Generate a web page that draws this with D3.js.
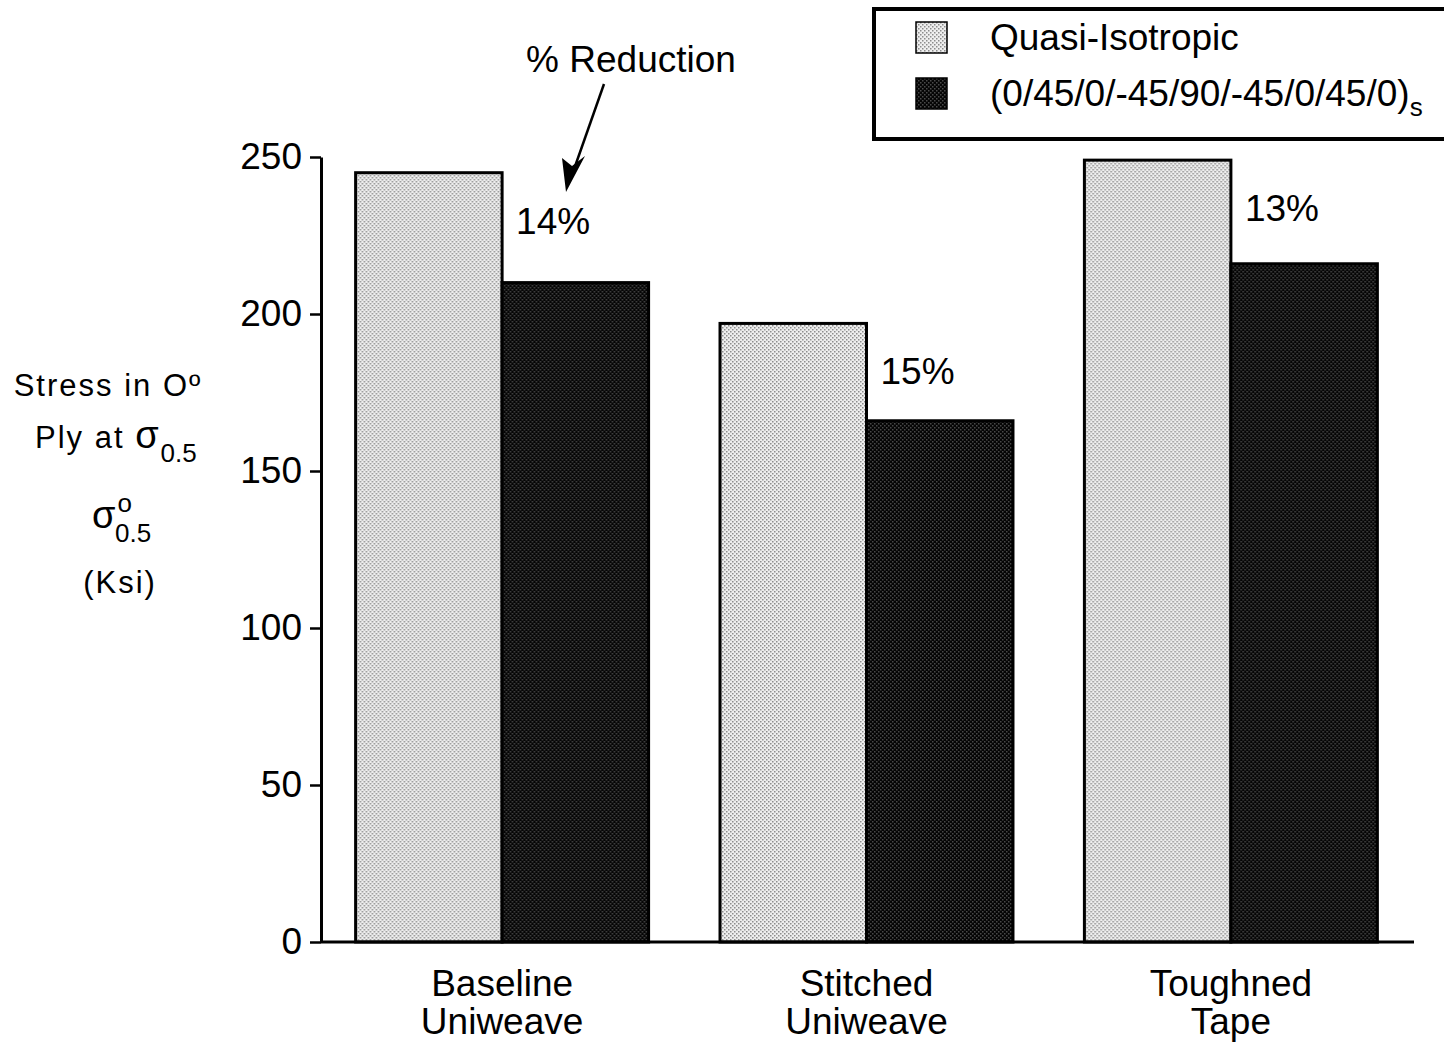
<!DOCTYPE html>
<html>
<head>
<meta charset="utf-8">
<script src="https://cdn.jsdelivr.net/npm/d3@7"></script>
<style>
  body { margin: 0; background: #fff; }
  svg text { font-family: "Liberation Sans", Arial, sans-serif; fill: #000; }
</style>
</head>
<body>
<div id="chart"></div>
<script>
// data
const categories = [["Baseline", "Uniweave"], ["Stitched", "Uniweave"], ["Toughned", "Tape"]];
const seriesNames = ["Quasi-Isotropic", "(0/45/0/-45/90/-45/0/45/0)"];
const quasiValues = [245, 197, 249];
const layupValues = [210, 166, 216];
const reductions = ["14%", "15%", "13%"];
const yTicks = [0, 50, 100, 150, 200, 250];

const width = 1444, height = 1043;
const margin = { top: 157, right: 32, bottom: 101, left: 321 };
const innerW = width - margin.left - margin.right;
const innerH = height - margin.top - margin.bottom;

const svg = d3.select("#chart").append("svg")
  .attr("width", width)
  .attr("height", height);

// dotted halftone fills
const defs = svg.append("defs");
function dotPattern(id, bg, dot) {
  const p = defs.append("pattern")
    .attr("id", id)
    .attr("patternUnits", "userSpaceOnUse")
    .attr("width", 4).attr("height", 4);
  p.append("rect").attr("width", 4).attr("height", 4).attr("fill", bg);
  p.append("rect").attr("x", 0).attr("y", 0).attr("width", 1.5).attr("height", 1.5).attr("fill", dot);
  p.append("rect").attr("x", 2).attr("y", 2).attr("width", 1.5).attr("height", 1.5).attr("fill", dot);
}
dotPattern("light", "#eeeeee", "#8c8c8c");
dotPattern("dark", "#050505", "#4a4a4a");
const fills = ["url(#light)", "url(#dark)"];

const g = svg.append("g").attr("transform", `translate(${margin.left},${margin.top})`);

const x = d3.scaleBand()
  .domain(d3.range(categories.length))
  .range([0, innerW])
  .paddingInner(0.196)
  .paddingOuter(0.095);

const xs = d3.scaleBand().domain([0, 1]).range([0, x.bandwidth()]);

const y = d3.scaleLinear().domain([0, 250]).range([innerH, 0]);

// bars
const groups = g.selectAll(".grp")
  .data(categories.map((c, i) => ({ i, vals: [quasiValues[i], layupValues[i]] })))
  .join("g")
  .attr("class", "grp")
  .attr("transform", d => `translate(${x(d.i)},0)`);

groups.selectAll("rect")
  .data(d => d.vals.map((v, s) => ({ v, s })))
  .join("rect")
  .attr("x", d => xs(d.s))
  .attr("y", d => y(d.v))
  .attr("width", xs.bandwidth())
  .attr("height", d => innerH - y(d.v))
  .attr("fill", d => fills[d.s])
  .attr("stroke", "#000")
  .attr("stroke-width", 3);

// percent labels
groups.append("text")
  .attr("x", xs(1) + 14)
  .attr("y", d => y(d.vals[0]) + 61)
  .attr("font-size", "37px")
  .text(d => reductions[d.i]);

// y axis
const yAxis = g.append("g")
  .call(d3.axisLeft(y).tickValues(yTicks).tickSize(11).tickPadding(8).tickSizeOuter(0));
yAxis.select(".domain").attr("stroke-width", 3);
yAxis.selectAll(".tick line").attr("stroke-width", 2.5);
yAxis.selectAll(".tick text").attr("font-size", "37px").attr("fill", "#000")
  .attr("font-family", "Liberation Sans, Arial, sans-serif");

// x axis line
g.append("line")
  .attr("x1", 0).attr("x2", innerW + 2)
  .attr("y1", innerH).attr("y2", innerH)
  .attr("stroke", "#000").attr("stroke-width", 3);

// category labels
const cat = g.selectAll(".cat")
  .data(categories)
  .join("text")
  .attr("class", "cat")
  .attr("text-anchor", "middle")
  .attr("font-size", "37px")
  .attr("transform", (d, i) => `translate(${x(i) + x.bandwidth() / 2},${innerH + 54})`);
cat.selectAll("tspan")
  .data(d => d)
  .join("tspan")
  .attr("x", 0)
  .attr("dy", (d, i) => i === 0 ? 0 : 38)
  .text(d => d);

// y axis title
const yt = svg.append("g").attr("font-size", "31px").style("letter-spacing", "2px");
yt.append("text").attr("x", 108).attr("y", 396).attr("text-anchor", "middle")
  .text("Stress in Oº");
const ply = yt.append("text").attr("x", 35).attr("y", 448);
ply.append("tspan").text("Ply at ");
ply.append("tspan").attr("font-size", "38px").text("σ");
ply.append("tspan").attr("dy", 14).attr("font-size", "26px").style("letter-spacing", "0px").text("0.5");
const s2 = yt.append("text").attr("x", 92).attr("y", 528);
s2.append("tspan").attr("font-size", "38px").text("σ");
s2.append("tspan").attr("dy", -16).attr("font-size", "26px").text("o");
s2.append("tspan").attr("x", 115).attr("dy", 30).attr("font-size", "26px").style("letter-spacing", "0px").text("0.5");
yt.append("text").attr("x", 120).attr("y", 593).attr("text-anchor", "middle")
  .text("(Ksi)");

// % Reduction annotation
svg.append("text")
  .attr("x", 631).attr("y", 72)
  .attr("text-anchor", "middle")
  .attr("font-size", "37px")
  .text("% Reduction");
svg.append("line")
  .attr("x1", 604).attr("y1", 84)
  .attr("x2", 572).attr("y2", 175)
  .attr("stroke", "#000").attr("stroke-width", 2.5);
svg.append("path")
  .attr("d", "M566,192 L562,158 L572,166 L585,156 Z")
  .attr("fill", "#000");

// legend
const legend = svg.append("g");
legend.append("rect")
  .attr("x", 874).attr("y", 9)
  .attr("width", 600).attr("height", 130)
  .attr("fill", "#fff").attr("stroke", "#000").attr("stroke-width", 4);
const li = legend.selectAll(".li")
  .data(seriesNames)
  .join("g")
  .attr("class", "li")
  .attr("transform", (d, i) => `translate(916,${22 + i * 56})`);
li.append("rect")
  .attr("width", 31).attr("height", 31)
  .attr("fill", (d, i) => fills[i])
  .attr("stroke", "#000").attr("stroke-width", 1.5);
const lt = li.append("text")
  .attr("x", 74).attr("y", 28)
  .attr("font-size", "37px");
lt.append("tspan").text(d => d);
lt.filter((d, i) => i === 1).append("tspan")
  .attr("dy", 10).attr("font-size", "26px").text("s");
</script>
</body>
</html>
